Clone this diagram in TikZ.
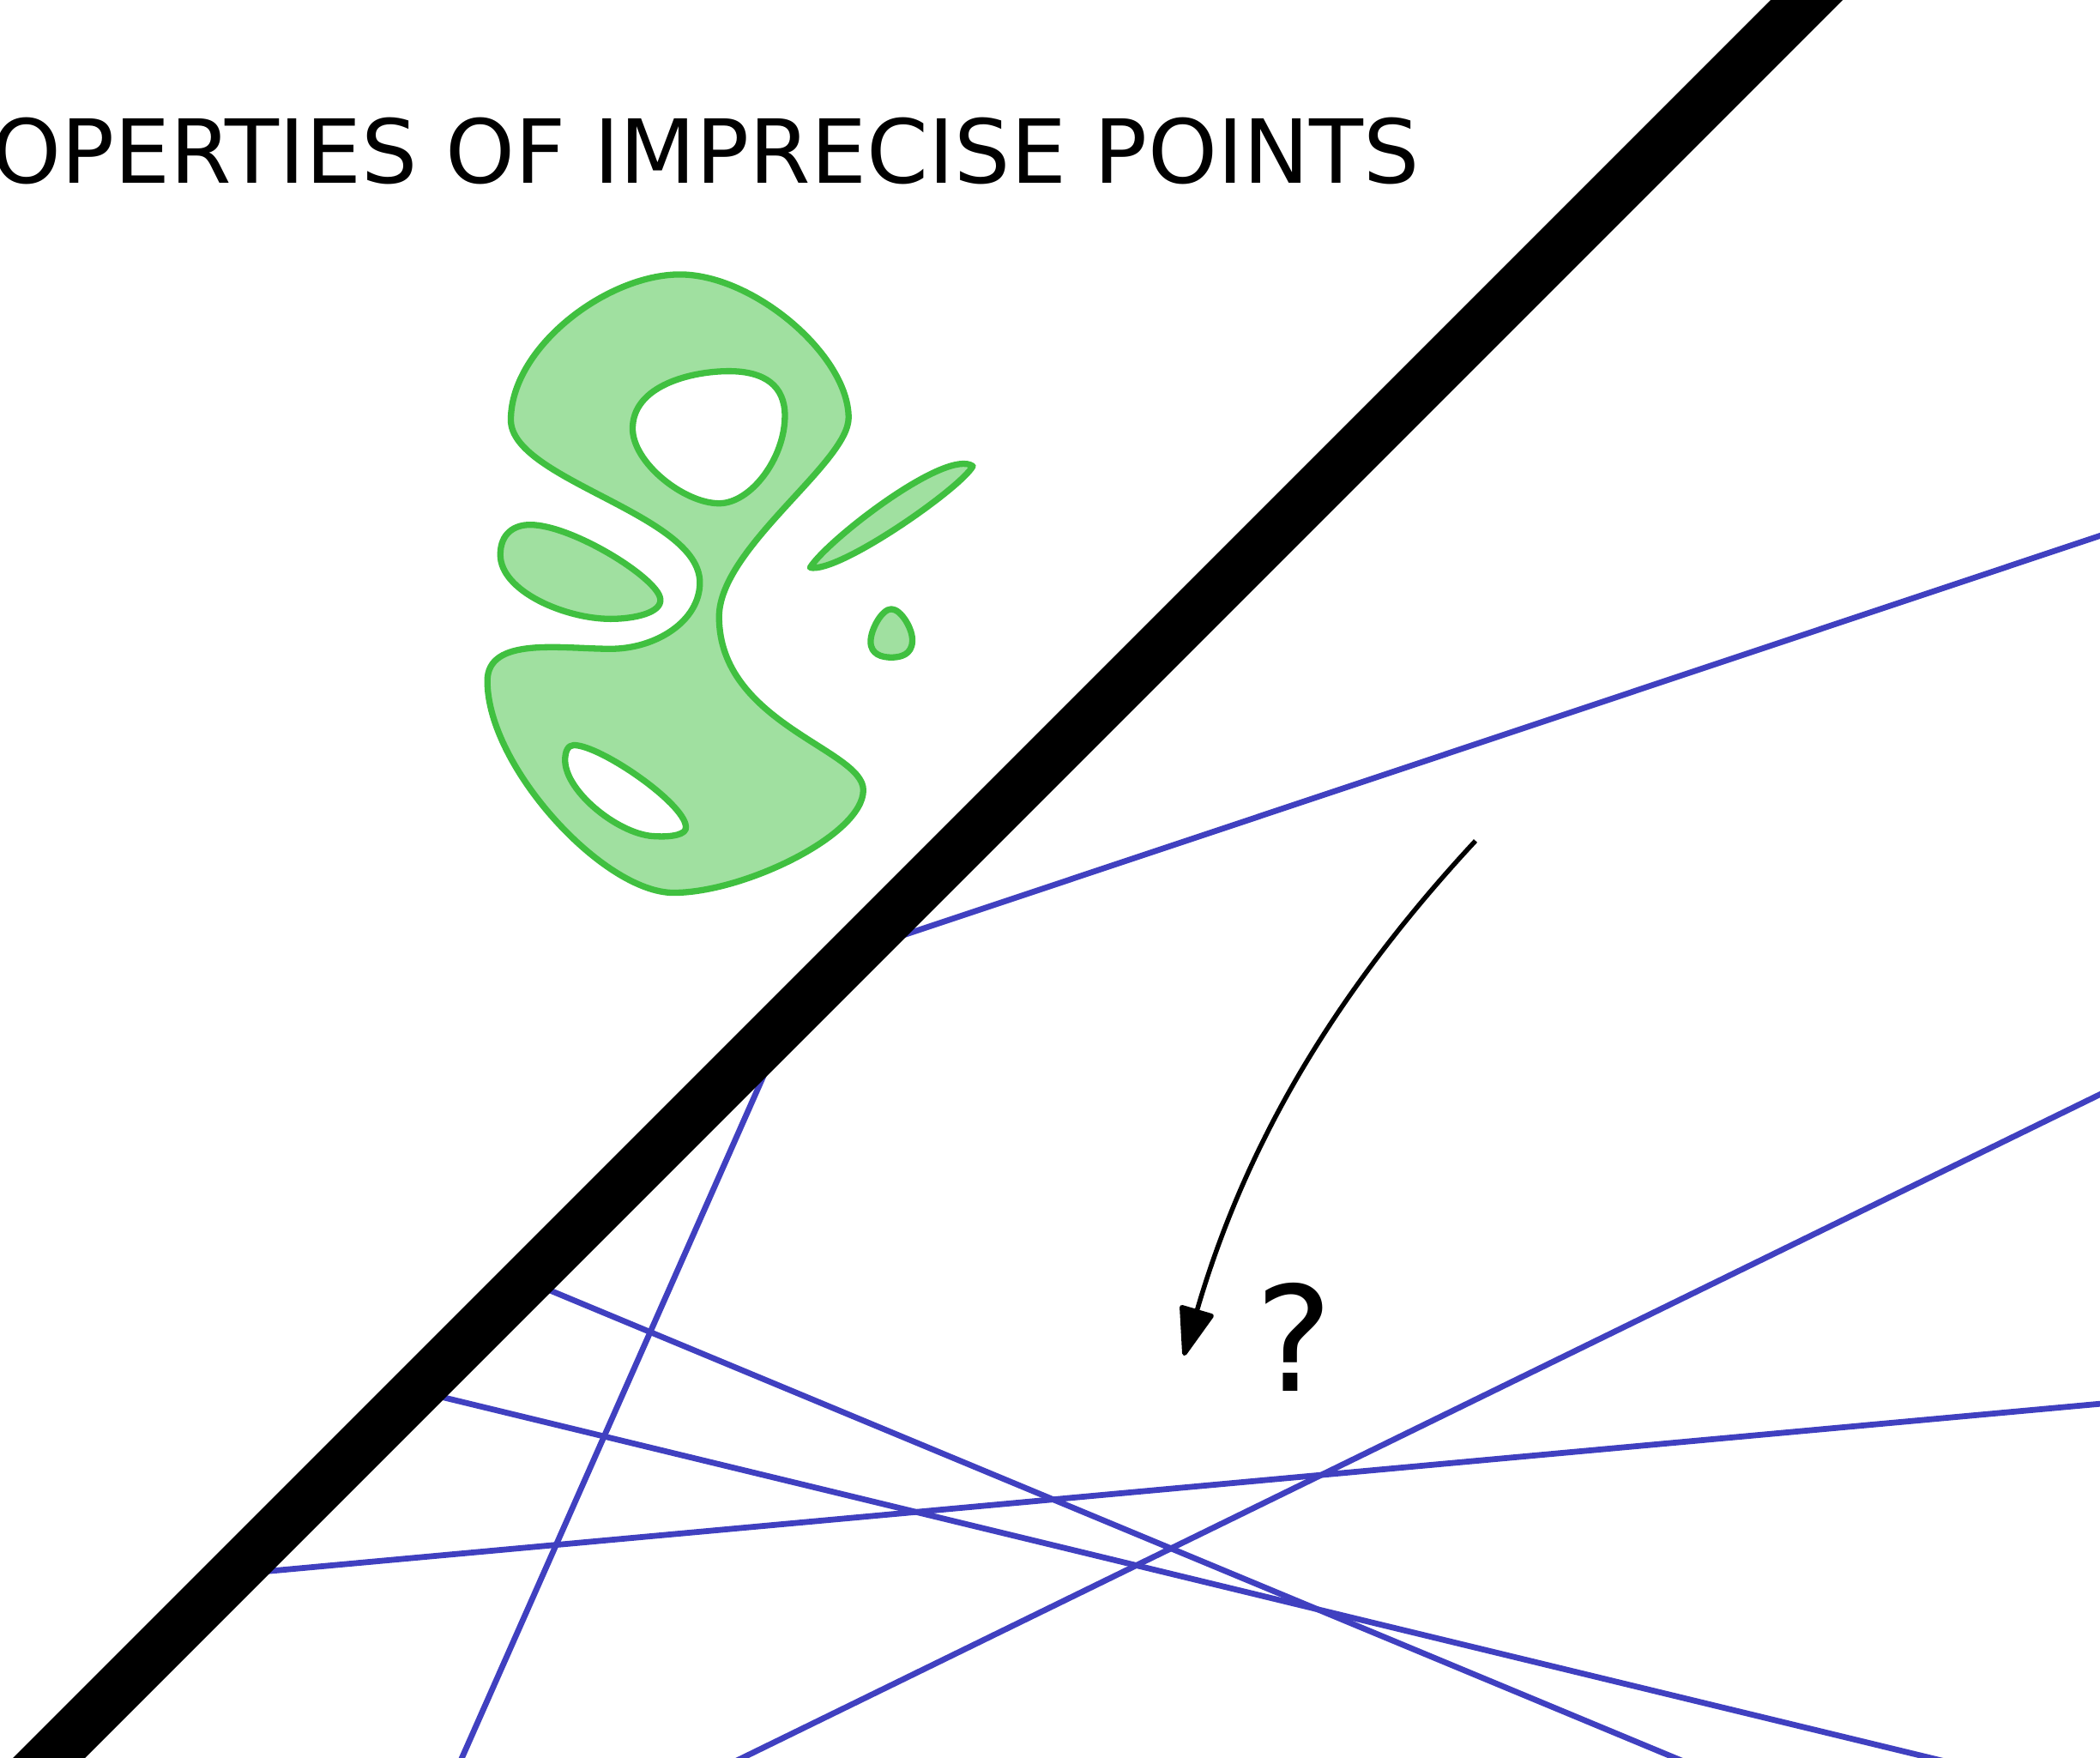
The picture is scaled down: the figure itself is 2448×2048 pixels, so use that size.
\documentclass[tikz,border=0pt]{standalone}
\usepackage{fontspec}
\setmainfont{DejaVu Sans}
\usetikzlibrary{arrows.meta}
\definecolor{lineblue}{RGB}{64,64,192}
\definecolor{blobfill}{RGB}{160,224,160}
\definecolor{blobdraw}{RGB}{64,192,64}
\begin{document}
\begin{tikzpicture}[x=1pt,y=-1pt,
  blueline/.style={draw=lineblue,line width=6.8pt},
  barline/.style={draw=black,line width=59.4pt},
  blob/.style={fill=blobfill,draw=blobdraw,line width=7.3pt,line join=round},
  arrowline/.style={draw=black,line width=5.5pt,-{Triangle[length=62pt,width=42pt,round]}},
]
\useasboundingbox (0,0) rectangle (2448,2048);
\begin{scope}
\clip (0,0) rectangle (2448,2048);
% blue lines (drawn in display units)
\begin{scope}[x=1.5612pt,y=-1.5612pt]
  \coordinate (l1a) at (639,710);   \coordinate (l1b) at (1600,389.3);
  \coordinate (l2a) at (589.4,759.6); \coordinate (l2b) at (336.2,1332);
  \coordinate (l3a) at (393,956);   \coordinate (l3b) at (1298,1332);
  \coordinate (l4a) at (310.7,1038.3); \coordinate (l4b) at (1522.5,1332);
  \coordinate (l5a) at (173.6,1175.4); \coordinate (l5b) at (1600,1045.1);
  \coordinate (l6a) at (514.1,1332); \coordinate (l6b) at (1600,801.4);
\end{scope}
\draw[blueline] (l1a) -- (l1b);
\draw[blueline] (l2a) -- (l2b);
\draw[blueline] (l3a) -- (l3b);
\draw[blueline] (l4a) -- (l4b);
\draw[blueline] (l5a) -- (l5b);
\draw[blueline] (l6a) -- (l6b);
% thick black bar
\coordinate (barA) at (2206,-100);
\coordinate (barB) at (-100,2206);
\draw[barline] (barA) -- (barB);
% green shapes
\begin{scope}[shift={(520,280)},x=0.408pt,y=-0.4987pt]
  \path[blob,even odd rule]
    % outer outline
    (668,80) .. controls (880,80) and (1150,270) .. (1150,415)
    .. controls (1150,520) and (780,720) .. (780,880)
    .. controls (780,1130) and (1192,1190) .. (1192,1285)
    .. controls (1192,1390) and (850,1525) .. (650,1525)
    .. controls (450,1525) and (118,1230) .. (118,1030)
    .. controls (118,925) and (330,955) .. (470,955)
    .. controls (600,955) and (725,890) .. (725,800)
    .. controls (725,640) and (185,560) .. (185,420)
    .. controls (185,250) and (460,80) .. cycle
    % upper hole
    (808,306) .. controls (910,306) and (968,340) .. (968,410)
    .. controls (968,510) and (870,615) .. (780,615)
    .. controls (680,615) and (533,520) .. (533,440)
    .. controls (533,340) and (700,306) .. cycle
    % lower hole
    (365,1180) .. controls (440,1180) and (680,1315) .. (685,1370)
    .. controls (690,1390) and (640,1395) .. (600,1393)
    .. controls (500,1393) and (340,1290) .. (340,1215)
    .. controls (340,1195) and (348,1180) .. cycle;
  % left lobe
  \path[blob] (240,665) .. controls (360,665) and (605,790) .. (612,838)
    .. controls (618,870) and (540,885) .. (470,885)
    .. controls (340,885) and (155,820) .. (155,735)
    .. controls (155,685) and (195,665) .. cycle;
  % thin lobe
  \path[blob] (1040,765) .. controls (1090,700) and (1430,485) .. (1505,528)
      .. controls (1470,580) and (1120,780) .. cycle;
  % drop
  \path[blob] (1272,862) .. controls (1300,862) and (1335,910) .. (1332,938)
      .. controls (1330,968) and (1300,975) .. (1272,975)
      .. controls (1245,975) and (1213,968) .. (1213,938)
      .. controls (1213,910) and (1245,862) .. cycle;
\end{scope}
% arrow
\coordinate (arrStart) at (1720,980);
\coordinate (arrTip) at (1380,1580);
\draw[arrowline] (arrStart) .. controls (1550,1163) and (1450,1340) .. (arrTip);
% question mark
\node[inner sep=0pt,font=\fontsize{170}{200}\selectfont] (qmark) at (1509,1558) {?};
% title
\node[anchor=base east,inner sep=0pt,font=\fontsize{103}{120}\selectfont] (title) at (1655,213) {PROPERTIES OF IMPRECISE POINTS};
\end{scope}
\end{tikzpicture}
\end{document}
